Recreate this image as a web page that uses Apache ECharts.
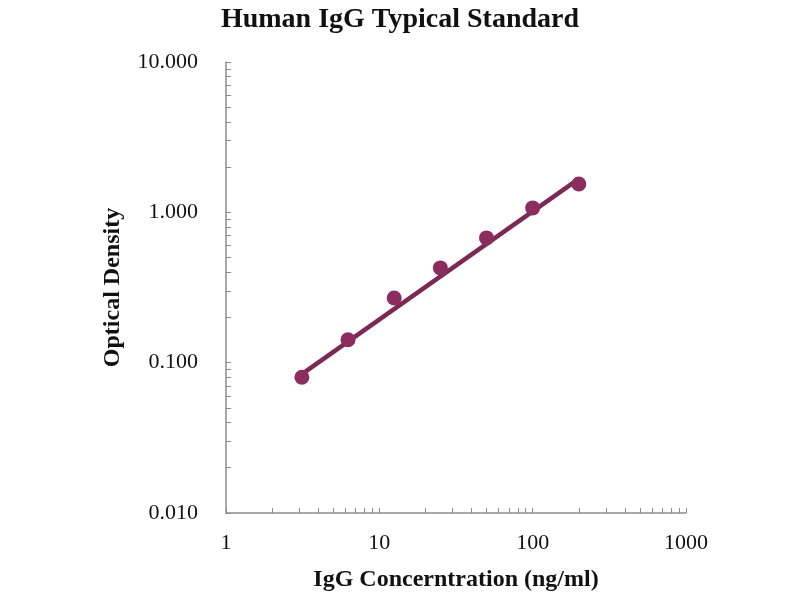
<!DOCTYPE html>
<html>
<head>
<meta charset="utf-8">
<title>Human IgG Typical Standard</title>
<script src="https://cdn.jsdelivr.net/npm/echarts@6/dist/echarts.min.js"></script>
<style>
  html, body { margin: 0; padding: 0; background: #fff; }
  #chart { width: 800px; height: 600px; }
</style>
</head>
<body>
<div id="chart"></div>
<script>
// standard concentrations (ng/ml) and measured OD
var concentration = [3.125, 6.25, 12.5, 25, 50, 100, 200];
var density = [0.080, 0.142, 0.269, 0.427, 0.676, 1.07, 1.545];
// trend line end points
var fitX = [3.125, 200];
var fitY = [0.084, 1.67];

var xLabels = [1, 10, 100, 1000];
var xTicks = [1, 2, 3, 4, 5, 6, 7, 8, 9, 10, 20, 30, 40, 50, 60, 70, 80, 90,
              100, 200, 300, 400, 500, 600, 700, 800, 900, 1000];
var yLabels = [0.01, 0.1, 1, 10];
var yTicks = [0.01, 0.02, 0.03, 0.04, 0.05, 0.06, 0.07, 0.08, 0.09,
              0.1, 0.2, 0.3, 0.4, 0.5, 0.6, 0.7, 0.8, 0.9,
              1, 2, 3, 4, 5, 6, 7, 8, 9, 10];

var serif = 'Liberation Serif, Times New Roman, serif';
var axisColor = '#8c8c8c';

var chart = echarts.init(document.getElementById('chart'));

var option = {
    backgroundColor: '#fff',
    animation: false,
    title: {
        text: 'Human IgG Typical Standard',
        left: 'center',
        top: 1,
        textStyle: { fontFamily: serif, fontSize: 28, fontWeight: 'bold', color: '#111' }
    },
    grid: { left: 226, right: 114, top: 62, bottom: 87 },
    xAxis: {
        type: 'log',
        logBase: 10,
        min: 1,
        max: 1000,
        name: 'IgG Concerntration (ng/ml)',
        nameLocation: 'middle',
        nameGap: 55,
        nameTextStyle: { fontFamily: serif, fontSize: 24, fontWeight: 'bold', color: '#111' },
        axisLine: { lineStyle: { color: axisColor, width: 1.5 } },
        axisTick: { inside: true, length: 5, lineStyle: { color: axisColor }, customValues: xTicks },
        axisLabel: {
            fontFamily: serif, fontSize: 22, color: '#111', margin: 19,
            customValues: xLabels,
            formatter: function (v) { return String(v); }
        },
        splitLine: { show: false }
    },
    yAxis: {
        type: 'log',
        logBase: 10,
        min: 0.01,
        max: 10,
        name: 'Optical Density',
        nameLocation: 'middle',
        nameGap: 101,
        nameTextStyle: { fontFamily: serif, fontSize: 24, fontWeight: 'bold', color: '#111' },
        axisLine: { show: true, lineStyle: { color: axisColor, width: 1.5 } },
        axisTick: { show: true, inside: true, length: 5, lineStyle: { color: axisColor }, customValues: yTicks },
        axisLabel: {
            fontFamily: serif, fontSize: 22, color: '#111', margin: 28,
            customValues: yLabels,
            formatter: function (v) { return v.toFixed(3); }
        },
        splitLine: { show: false }
    },
    series: [
        {
            name: 'fit',
            type: 'line',
            data: fitX.map(function (x, i) { return [x, fitY[i]]; }),
            symbol: 'none',
            lineStyle: { color: '#7a2a55', width: 4.5 },
            z: 2
        },
        {
            name: 'OD',
            type: 'scatter',
            data: concentration.map(function (x, i) { return [x, density[i]]; }),
            symbolSize: 15,
            itemStyle: { color: '#8c2d5f', opacity: 1 },
            z: 3
        }
    ]
};
chart.setOption(option);
</script>
</body>
</html>
